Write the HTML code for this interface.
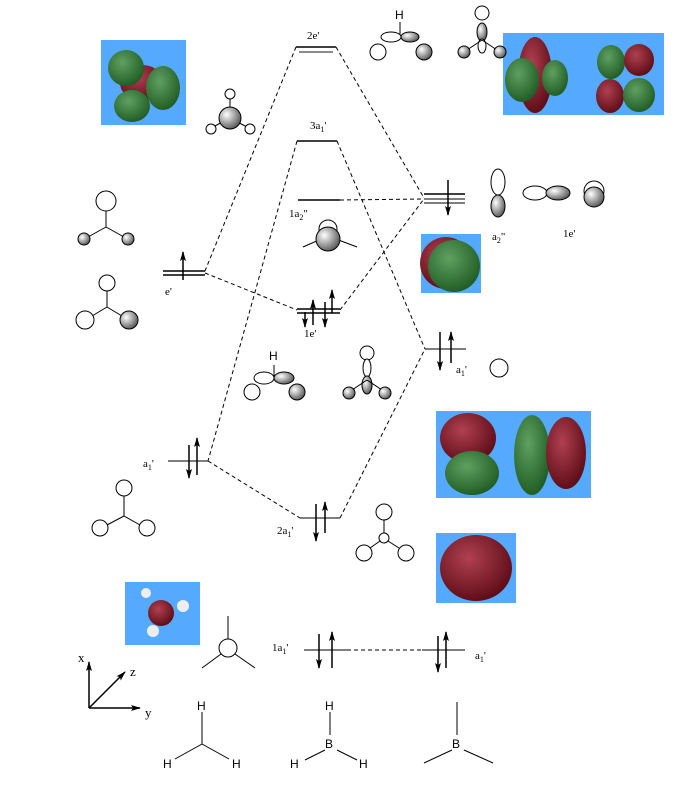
<!DOCTYPE html>
<html><head><meta charset="utf-8"><style>
html,body{margin:0;padding:0;background:#fff;}
svg{display:block;font-family:"Liberation Serif",serif;}
.s{font-family:"Liberation Sans",sans-serif;}
</style></head><body>
<svg width="679" height="786" viewBox="0 0 679 786" xmlns="http://www.w3.org/2000/svg">
<defs>
<radialGradient id="g" cx="35%" cy="35%" r="70%"><stop offset="0" stop-color="#fff"/><stop offset="1" stop-color="#555"/></radialGradient>
<radialGradient id="gr" cx="40%" cy="35%" r="70%"><stop offset="0" stop-color="#5fa060"/><stop offset="1" stop-color="#1d5a22"/></radialGradient>
<radialGradient id="rd" cx="40%" cy="35%" r="70%"><stop offset="0" stop-color="#b04050"/><stop offset="1" stop-color="#5a0a15"/></radialGradient>
<marker id="ah" markerUnits="userSpaceOnUse" markerWidth="10" markerHeight="6" refX="9" refY="3" orient="auto"><path d="M0,0 L10,3 L0,6 L2,3z" fill="#000"/></marker>
</defs>
<g fill="none" stroke="#000">
<rect x="101" y="40" width="85" height="85" fill="#55aaff" stroke="none"/>
<rect x="503" y="33" width="161" height="82" fill="#55aaff" stroke="none"/>
<rect x="421" y="234" width="60" height="59" fill="#55aaff" stroke="none"/>
<rect x="436" y="411" width="155" height="87" fill="#55aaff" stroke="none"/>
<rect x="436" y="533" width="80" height="70" fill="#55aaff" stroke="none"/>
<rect x="125" y="582" width="75" height="63" fill="#55aaff" stroke="none"/>
<g stroke="none">
<ellipse cx="142" cy="83" rx="22" ry="18" fill="url(#rd)"/>
<ellipse cx="126" cy="68" rx="18" ry="18" fill="url(#gr)"/>
<ellipse cx="163" cy="88" rx="17" ry="22" fill="url(#gr)"/>
<ellipse cx="132" cy="106" rx="18" ry="16" fill="url(#gr)"/>
<ellipse cx="535" cy="75" rx="17" ry="38" fill="url(#rd)"/>
<ellipse cx="522" cy="80" rx="17" ry="22" fill="url(#gr)"/>
<ellipse cx="555" cy="78" rx="13" ry="18" fill="url(#gr)"/>
<ellipse cx="611" cy="62" rx="14" ry="17" fill="url(#gr)"/>
<ellipse cx="639" cy="60" rx="15" ry="16" fill="url(#rd)"/>
<ellipse cx="610" cy="96" rx="14" ry="17" fill="url(#rd)"/>
<ellipse cx="639" cy="95" rx="16" ry="17" fill="url(#gr)"/>
<circle cx="446" cy="263" r="26" fill="url(#rd)"/>
<circle cx="454" cy="266" r="26" fill="url(#gr)"/>
<ellipse cx="468" cy="438" rx="28" ry="25" fill="url(#rd)"/>
<ellipse cx="472" cy="473" rx="27" ry="22" fill="url(#gr)"/>
<ellipse cx="532" cy="455" rx="18" ry="40" fill="url(#gr)"/>
<ellipse cx="566" cy="453" rx="20" ry="36" fill="url(#rd)"/>
<ellipse cx="476" cy="568" rx="36" ry="33" fill="url(#rd)"/>
<circle cx="161" cy="613" r="13" fill="url(#rd)"/>
<circle cx="146" cy="593" r="5" fill="#eee"/><circle cx="183" cy="606" r="6" fill="#eee"/><circle cx="153" cy="631" r="6" fill="#eee"/>
</g>
<g stroke-width="1.5">
<line x1="296" y1="47" x2="336" y2="47"/><line x1="299" y1="52" x2="333" y2="52" stroke="#666"/>
<line x1="297" y1="141" x2="337" y2="141"/>
<line x1="298" y1="200" x2="340" y2="200"/>
<line x1="424" y1="194" x2="465" y2="194"/><line x1="424" y1="199" x2="465" y2="199" stroke="#555"/><line x1="424" y1="203" x2="465" y2="203" stroke="#555"/>
<line x1="163" y1="271" x2="205" y2="271"/><line x1="163" y1="275" x2="205" y2="275"/>
<line x1="297" y1="309" x2="340" y2="309"/><line x1="297" y1="313" x2="340" y2="313"/>
<line x1="425" y1="349" x2="466" y2="349" stroke="#555"/>
<line x1="168" y1="461" x2="208" y2="461" stroke="#555"/>
<line x1="300" y1="518" x2="340" y2="518" stroke="#555"/>
<line x1="304" y1="650" x2="347" y2="650" stroke="#555"/>
<line x1="422" y1="650" x2="465" y2="650" stroke="#555"/>
</g>
<g stroke-dasharray="4,3" stroke-width="1">
<line x1="296" y1="47" x2="205" y2="271"/><line x1="336" y1="47" x2="424" y2="198"/>
<line x1="297" y1="141" x2="208" y2="461"/><line x1="337" y1="141" x2="425" y2="349"/>
<line x1="340" y1="200" x2="424" y2="199"/>
<line x1="205" y1="273" x2="297" y2="310"/><line x1="340" y1="310" x2="424" y2="199"/>
<line x1="208" y1="461" x2="300" y2="518"/><line x1="340" y1="518" x2="425" y2="349"/>
<line x1="347" y1="650" x2="422" y2="650"/>
</g>
<g stroke-width="1.5" marker-end="url(#ah)">
<line x1="448" y1="180" x2="448" y2="215"/>
<line x1="183" y1="280" x2="183" y2="252"/>
<line x1="305" y1="312" x2="305" y2="327"/><line x1="313" y1="325" x2="313" y2="300"/>
<line x1="325" y1="302" x2="325" y2="327"/><line x1="332" y1="313" x2="332" y2="290"/>
<line x1="440" y1="332" x2="440" y2="370"/><line x1="451" y1="363" x2="451" y2="332"/>
<line x1="189" y1="445" x2="189" y2="478"/><line x1="197" y1="475" x2="197" y2="438"/>
<line x1="316" y1="504" x2="316" y2="541"/><line x1="325" y1="533" x2="325" y2="502"/>
<line x1="319" y1="634" x2="319" y2="668"/><line x1="332" y1="668" x2="332" y2="632"/>
<line x1="438" y1="636" x2="438" y2="672"/><line x1="446" y1="668" x2="446" y2="632"/>
</g>
<g stroke-width="1">
<!-- H3 sketch -->
<line x1="230" y1="118" x2="230" y2="99"/><line x1="230" y1="118" x2="213" y2="127"/><line x1="230" y1="118" x2="247" y2="127"/>
<circle cx="230" cy="94" r="5" fill="#fff"/><circle cx="211" cy="129" r="5" fill="#fff"/><circle cx="250" cy="129" r="5" fill="#fff"/>
<circle cx="230" cy="118" r="11" fill="url(#g)"/>
<!-- top sketches -->
<line x1="400" y1="22" x2="400" y2="37"/><text x="395" y="19" class="s" font-size="12" fill="#000" stroke="none">H</text>
<ellipse cx="391" cy="37" rx="10" ry="5" fill="#fff"/><ellipse cx="410" cy="37" rx="9" ry="5" fill="url(#g)"/>
<circle cx="378" cy="52" r="8" fill="#fff"/><circle cx="424" cy="52" r="8" fill="url(#g)"/>
<circle cx="482" cy="13" r="7" fill="#fff"/><ellipse cx="482" cy="32" rx="5" ry="9" fill="url(#g)"/><ellipse cx="482" cy="46" rx="4" ry="7" fill="#fff"/>
<line x1="482" y1="40" x2="467" y2="50"/><line x1="482" y1="40" x2="497" y2="50"/>
<circle cx="464" cy="52" r="6" fill="url(#g)"/><circle cx="500" cy="52" r="6" fill="url(#g)"/>
<!-- left e' sketches -->
<line x1="106" y1="210" x2="106" y2="227"/><line x1="106" y1="227" x2="88" y2="237"/><line x1="106" y1="227" x2="124" y2="237"/>
<circle cx="106" cy="201" r="10" fill="#fff"/><circle cx="84" cy="239" r="6" fill="url(#g)"/><circle cx="128" cy="239" r="6" fill="url(#g)"/>
<line x1="107" y1="291" x2="107" y2="307"/><line x1="107" y1="307" x2="92" y2="316"/><line x1="107" y1="307" x2="122" y2="316"/>
<circle cx="107" cy="283" r="8" fill="#fff"/><circle cx="85" cy="320" r="9" fill="#fff"/><circle cx="129" cy="320" r="9" fill="url(#g)"/>
<!-- right p sketches -->
<ellipse cx="498" cy="182" rx="7" ry="13" fill="#fff"/><ellipse cx="498" cy="206" rx="7" ry="11" fill="url(#g)"/>
<ellipse cx="535" cy="193" rx="12" ry="7" fill="#fff"/><ellipse cx="558" cy="193" rx="12" ry="7" fill="url(#g)"/>
<circle cx="594" cy="191" r="10" fill="#fff"/><circle cx="594" cy="197" r="10" fill="url(#g)"/>
<!-- 1a2" sketch -->
<line x1="303" y1="247" x2="328" y2="236"/><line x1="357" y1="247" x2="328" y2="236"/>
<circle cx="328" cy="229" r="9" fill="#fff"/><circle cx="328" cy="239" r="12" fill="url(#g)"/>
<circle cx="499" cy="368" r="9" fill="#fff"/>
<!-- 1e' sketches -->
<line x1="274" y1="365" x2="274" y2="378"/><text x="269" y="360" class="s" font-size="12" fill="#000" stroke="none">H</text>
<ellipse cx="264" cy="378" rx="10" ry="6" fill="#fff"/><ellipse cx="284" cy="378" rx="10" ry="6" fill="url(#g)"/>
<circle cx="252" cy="392" r="8" fill="#fff"/><circle cx="297" cy="392" r="8" fill="url(#g)"/>
<circle cx="367" cy="353" r="7" fill="#fff"/><ellipse cx="367" cy="368" rx="4" ry="9" fill="#fff"/><ellipse cx="367" cy="385" rx="5" ry="9" fill="url(#g)"/>
<line x1="367" y1="380" x2="352" y2="390"/><line x1="367" y1="380" x2="382" y2="390"/>
<circle cx="349" cy="393" r="6" fill="url(#g)"/><circle cx="385" cy="393" r="6" fill="url(#g)"/>
<!-- a1' sketches -->
<line x1="124" y1="496" x2="124" y2="516"/><line x1="124" y1="516" x2="107" y2="525"/><line x1="124" y1="516" x2="140" y2="525"/>
<circle cx="124" cy="488" r="8" fill="#fff"/><circle cx="100" cy="528" r="8" fill="#fff"/><circle cx="147" cy="528" r="8" fill="#fff"/>
<line x1="384" y1="520" x2="384" y2="533"/><line x1="380" y1="541" x2="370" y2="548"/><line x1="388" y1="541" x2="399" y2="548"/>
<circle cx="384" cy="512" r="8" fill="#fff"/><circle cx="384" cy="538" r="5" fill="#fff"/><circle cx="364" cy="553" r="8" fill="#fff"/><circle cx="406" cy="553" r="8" fill="#fff"/>
<line x1="228" y1="616" x2="228" y2="640"/><line x1="221" y1="654" x2="202" y2="668"/><line x1="235" y1="654" x2="255" y2="668"/>
<circle cx="228" cy="648" r="9" fill="#fff"/>
<g stroke-width="1.5" marker-end="url(#ah)"><line x1="89" y1="708" x2="89" y2="662"/><line x1="89" y1="708" x2="140" y2="708"/><line x1="89" y1="708" x2="125" y2="672"/></g>
<line x1="202" y1="712" x2="202" y2="744"/><line x1="202" y1="744" x2="175" y2="759"/><line x1="202" y1="744" x2="229" y2="759"/>
<line x1="330" y1="712" x2="330" y2="735"/><line x1="325" y1="750" x2="305" y2="760"/><line x1="337" y1="750" x2="357" y2="760"/>
<line x1="457" y1="702" x2="457" y2="735"/><line x1="452" y1="750" x2="424" y2="763"/><line x1="464" y1="750" x2="493" y2="763"/>
</g>
</g>
<g font-size="11" fill="#000">
<text x="307" y="39">2e'</text>
<text x="310" y="129">3a<tspan font-size="8" dy="3">1</tspan><tspan dy="-3">'</tspan></text>
<text x="289" y="217">1a<tspan font-size="8" dy="3">2</tspan><tspan dy="-3">"</tspan></text>
<text x="165" y="295">e'</text>
<text x="304" y="337">1e'</text>
<text x="492" y="240">a<tspan font-size="8" dy="3">2</tspan><tspan dy="-3">"</tspan></text>
<text x="563" y="237">1e'</text>
<text x="456" y="373">a<tspan font-size="8" dy="3">1</tspan><tspan dy="-3">'</tspan></text>
<text x="143" y="467">a<tspan font-size="8" dy="3">1</tspan><tspan dy="-3">'</tspan></text>
<text x="277" y="534">2a<tspan font-size="8" dy="3">1</tspan><tspan dy="-3">'</tspan></text>
<text x="272" y="651">1a<tspan font-size="8" dy="3">1</tspan><tspan dy="-3">'</tspan></text>
<text x="475" y="659">a<tspan font-size="8" dy="3">1</tspan><tspan dy="-3">'</tspan></text>
<text x="78" y="662" font-size="13">x</text>
<text x="130" y="676" font-size="13">z</text>
<text x="145" y="717" font-size="13">y</text>
</g>
<g class="s" font-size="12" fill="#000">
<text x="197" y="710">H</text><text x="163" y="768">H</text><text x="232" y="768">H</text>
<text x="325" y="710">H</text><text x="325" y="748">B</text><text x="290" y="768">H</text><text x="359" y="768">H</text>
<text x="452" y="748">B</text>
</g>
</svg>
</body></html>
